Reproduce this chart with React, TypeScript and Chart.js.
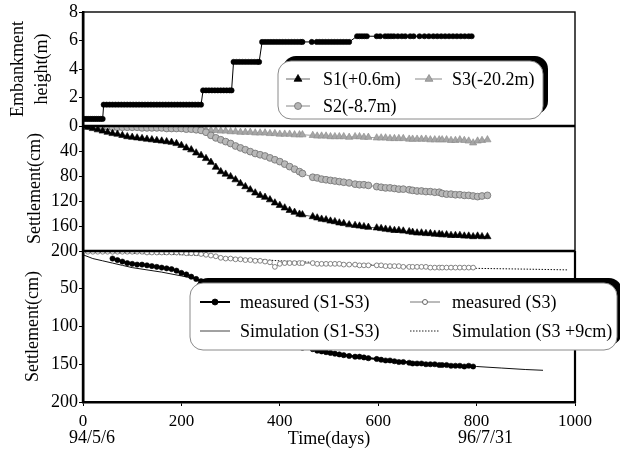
import React, { useEffect, useRef } from 'react';
import { Chart, registerables } from 'chart.js';

Chart.register(...registerables);

const FONT = '"Liberation Serif", "Times New Roman", serif';

// ---------- data ----------
const dateTickDays = [0, 800];
const dateTickLabels = ['94/5/6', '96/7/31'];

const embankmentDays = [
  0, 4, 8, 12, 16, 20, 24, 28, 32, 36, 40,
  42, 48, 54, 60, 66, 72, 78, 84, 90, 96, 102, 108, 114, 120, 126, 132, 138, 144, 150, 156, 162, 168, 174, 180, 186, 192, 198, 204, 210, 216, 222, 228, 234, 240,
  244, 250, 256, 262, 268, 274, 280, 286, 292, 298, 302,
  306, 312, 318, 324, 330, 336, 342, 348, 354, 358,
  364, 370, 376, 382, 388, 394, 400, 406, 412, 418, 424, 430, 436, 442, 446, 465, 475, 481, 487, 493, 499, 505, 511, 517, 523, 529, 535, 541,
  557, 562, 567, 572, 577, 597, 604, 614, 620, 626, 632, 640, 648, 655, 665, 672, 684, 694, 703, 712, 720, 728, 736, 744, 752, 760, 768, 776, 784, 790,
];
const embankmentHeight = [
  0.5, 0.5, 0.5, 0.5, 0.5, 0.5, 0.5, 0.5, 0.5, 0.5, 0.5,
  1.5, 1.5, 1.5, 1.5, 1.5, 1.5, 1.5, 1.5, 1.5, 1.5,
  1.5, 1.5, 1.5, 1.5, 1.5, 1.5, 1.5, 1.5, 1.5, 1.5,
  1.5, 1.5, 1.5, 1.5, 1.5, 1.5, 1.5, 1.5, 1.5, 1.5,
  1.5, 1.5, 1.5, 1.5,
  2.5, 2.5, 2.5, 2.5, 2.5, 2.5, 2.5, 2.5, 2.5, 2.5, 2.5,
  4.5, 4.5, 4.5, 4.5, 4.5, 4.5, 4.5, 4.5, 4.5, 4.5,
  5.9, 5.9, 5.9, 5.9, 5.9, 5.9, 5.9, 5.9, 5.9, 5.9,
  5.9, 5.9, 5.9, 5.9, 5.9, 5.9, 5.9, 5.9, 5.9, 5.9,
  5.9, 5.9, 5.9, 5.9, 5.9, 5.9, 5.9, 5.9,
  6.3, 6.3, 6.3, 6.3, 6.3, 6.3, 6.3, 6.3, 6.3, 6.3,
  6.3, 6.3, 6.3, 6.3, 6.3, 6.3, 6.3, 6.3, 6.3, 6.3,
  6.3, 6.3, 6.3, 6.3, 6.3, 6.3, 6.3, 6.3, 6.3, 6.3,
];

const settleDays = [
  0, 10, 20, 30, 40, 50, 60, 70, 80, 90, 100, 110, 120, 130, 140, 150, 160, 170, 180, 190, 200, 210, 220, 230, 240,
  250, 260, 270, 280, 290, 300, 310, 320, 330, 340, 350, 360, 370, 380, 390, 400, 410, 420, 430, 440, 446,
  467, 476, 485, 494, 503, 512, 521, 530, 541,
  553, 562, 571, 580,
  597, 606, 615, 624, 633, 642, 651, 663,
  670, 679, 688, 697, 706, 715, 724,
  730, 739, 748, 757, 766, 775, 784, 793, 802, 811, 822,
];
const s1Settlement = [
  0, 2, 4, 6, 8, 10, 12, 13, 15, 17, 18, 19, 20, 21, 22, 23, 24, 25, 26, 28, 31, 35, 38, 43, 47,
  52, 58, 66, 73, 77, 81, 86, 92, 97, 102, 107, 111, 114, 118, 123, 127, 131, 135, 138, 141, 142,
  145, 147, 149, 150, 152, 153, 155, 156, 158,
  159, 160, 161, 162,
  163, 164, 165, 166, 167, 167, 168, 169,
  170, 171, 171, 172, 172, 173, 173,
  174, 174, 175, 175, 175, 176, 176, 177, 176, 177, 177,
];
const s2Settlement = [
  0, 0, 1, 1, 1, 1, 2, 2, 2, 2, 2, 2, 3, 3, 3, 3, 3, 4, 4, 4, 4, 5, 5, 6, 7,
  10, 15, 19, 22, 25, 28, 32, 35, 38, 41, 44, 46, 48, 51, 54, 57, 61, 65, 69, 73, 76,
  82, 83, 85, 86, 87, 88, 89, 90, 91,
  93, 94, 94, 95,
  97, 98, 99, 99, 100, 101, 101, 102,
  103, 104, 104, 105, 105, 106, 106,
  108, 109, 109, 110, 110, 111, 111, 112, 113, 112, 111,
];
const s3Settlement = [
  0, 0, 0, 1, 1, 1, 1, 1, 1, 1, 1, 1, 2, 2, 2, 2, 2, 2, 2, 2, 2, 2, 3, 3, 4,
  6, 7, 7, 8, 8, 9, 9, 10, 10, 10, 11, 11, 11, 12, 12, 13, 13, 13, 14, 14, 14,
  15, 16, 16, 16, 17, 17, 17, 17, 18,
  17, 17, 18, 18,
  19, 19, 19, 20, 20, 20, 20, 21,
  21, 21, 21, 21, 22, 22, 22,
  22, 22, 23, 23, 22, 23, 24, 27, 24, 23, 22,
];

// bottom panel (measured), aligned with settleDays
const measuredS1S3 = [
  null, null, null, null, null, null, 10, 12, 14, 16, 17, 18, 18, 19, 20, 21, 22, 23, 24, 26, 29, 31, 34, 37, 40,
  45, 50, 58, 65, 69, 72, 77, 82, 87, 92, 96, 100, 103, 106, 110, 114, 118, 122, 124, 127, 128,
  130, 132, 133, 134, 135, 136, 137, 138, 139,
  140, 140, 141, 142,
  143, 144, 145, 145, 146, 147, 147, 148,
  149, 149, 149, 150, 150, 150, 151,
  151, 151, 152, 152, 152, 153, 152, 153,
];
const measuredS3 = [
  1, 1, 1, 1, 1, 1, 1, 1, 1, 1, 1, 1, 1, 2, 2, 2, 2, 2, 2, 2, 2, 3, 3, 3, 4,
  5, 6, 7, 9, 10, 10, 11, 11, 12, 12, 13, 13, 14, 15, 21, 17, 16, 16, 16, 16, 16,
  16, 17, 17, 17, 17, 17, 17, 18, 18,
  18, 19, 19, 19,
  19, 19, 20, 20, 20, 20, 21, 21,
  21, 21, 21, 21, 22, 22, 22,
  22, 22, 22, 22, 22, 22, 22, 22,
];

const simDays = [0, 20, 40, 60, 80, 100, 130, 160, 200, 230, 260, 300, 350, 400, 450, 500, 550, 600, 650, 700, 750, 800, 850, 900, 935];
const simS1S3 = [5, 10, 13, 16, 19, 22, 25, 28, 33, 37, 46, 70, 97, 115, 126, 134, 139, 143, 146, 149, 151, 153, 155, 157, 158];
const simS3Days = [0, 100, 200, 260, 300, 400, 500, 600, 700, 800, 900, 984];
const simS3 = [1, 3, 5, 6, 9, 13, 16, 19, 21, 23, 24, 25];

const legendTopLabels = ['S1(+0.6m)', 'S3(-20.2m)', 'S2(-8.7m)'];
const legendBottomLabels = ['measured (S1-S3)', 'measured (S3)', 'Simulation (S1-S3)', 'Simulation (S3 +9cm)'];

// ---------- helpers ----------
function zip(days: number[], vals: (number | null)[]) {
  const out: { x: number; y: number }[] = [];
  const n = Math.min(days.length, vals.length);
  for (let i = 0; i < n; i++) {
    const v = vals[i];
    if (v !== null) out.push({ x: days[i], y: v });
  }
  return out;
}

function roundRect(ctx: CanvasRenderingContext2D, x: number, y: number, w: number, h: number, r: number) {
  ctx.beginPath();
  ctx.moveTo(x + r, y);
  ctx.arcTo(x + w, y, x + w, y + h, r);
  ctx.arcTo(x + w, y + h, x, y + h, r);
  ctx.arcTo(x, y + h, x, y, r);
  ctx.arcTo(x, y, x + w, y, r);
  ctx.closePath();
}

function legendBox(ctx: CanvasRenderingContext2D, x: number, y: number, w: number, h: number) {
  ctx.fillStyle = '#000';
  roundRect(ctx, x + 5, y - 5, w, h, 13);
  ctx.fill();
  ctx.fillStyle = '#fff';
  roundRect(ctx, x, y, w, h, 13);
  ctx.fill();
  ctx.strokeStyle = '#8a8a8a';
  ctx.lineWidth = 1;
  ctx.stroke();
}

function triangle(ctx: CanvasRenderingContext2D, cx: number, cy: number, r: number, fill: string, stroke: string) {
  ctx.beginPath();
  ctx.moveTo(cx, cy - r);
  ctx.lineTo(cx + r * 0.866, cy + r * 0.5);
  ctx.lineTo(cx - r * 0.866, cy + r * 0.5);
  ctx.closePath();
  ctx.fillStyle = fill;
  ctx.fill();
  ctx.strokeStyle = stroke;
  ctx.lineWidth = 0.8;
  ctx.stroke();
}

function circle(ctx: CanvasRenderingContext2D, cx: number, cy: number, r: number, fill: string, stroke: string, lw = 0.8) {
  ctx.beginPath();
  ctx.arc(cx, cy, r, 0, Math.PI * 2);
  ctx.fillStyle = fill;
  ctx.fill();
  ctx.strokeStyle = stroke;
  ctx.lineWidth = lw;
  ctx.stroke();
}

function hline(ctx: CanvasRenderingContext2D, x1: number, x2: number, y: number, color: string, lw: number, dash: number[] = []) {
  ctx.save();
  ctx.beginPath();
  ctx.setLineDash(dash);
  ctx.moveTo(x1, y);
  ctx.lineTo(x2, y);
  ctx.strokeStyle = color;
  ctx.lineWidth = lw;
  ctx.stroke();
  ctx.restore();
}

const overlayPlugin = {
  id: 'overlay',
  afterDatasetsDraw(chart: any) {
    const { ctx, chartArea } = chart;
    const { left, right } = chartArea;
    const yT = chart.scales.yTop;
    const yM = chart.scales.yMid;
    const yB = chart.scales.yBot;
    ctx.save();
    ctx.strokeStyle = '#000';
    ctx.lineWidth = 1.4;
    ctx.strokeRect(left, yT.top, right - left, yB.bottom - yT.top);
    ctx.beginPath();
    ctx.lineWidth = 2.6;
    ctx.moveTo(left, yT.bottom);
    ctx.lineTo(right, yT.bottom);
    ctx.moveTo(left, yM.bottom);
    ctx.lineTo(right, yM.bottom);
    ctx.stroke();
    ctx.beginPath();
    ctx.lineWidth = 2.2;
    ctx.moveTo(right, yB.top);
    ctx.lineTo(right, yB.bottom);
    ctx.lineTo(left, yB.bottom);
    ctx.stroke();
    ctx.beginPath();
    ctx.lineWidth = 2.4;
    ctx.moveTo(left, yT.top);
    ctx.lineTo(left, yB.bottom);
    ctx.stroke();
    ctx.restore();
  },
  afterDraw(chart: any) {
    const { ctx } = chart;
    const x = chart.scales.x;
    ctx.save();
    ctx.font = `18px ${FONT}`;
    ctx.fillStyle = '#000';
    ctx.textBaseline = 'middle';
    ctx.textAlign = 'center';
    dateTickDays.forEach((d, i) => {
      ctx.fillText(dateTickLabels[i], x.getPixelForValue(d) + 9, 438);
    });

    // legend 1 (top panel)
    legendBox(ctx, 278, 61, 265, 58);
    ctx.textAlign = 'left';
    ctx.fillStyle = '#000';
    hline(ctx, 286, 310, 79, '#666', 1);
    triangle(ctx, 298, 79, 4.5, '#000', '#000');
    ctx.fillStyle = '#000';
    ctx.fillText(legendTopLabels[0], 323, 80);
    hline(ctx, 415, 442, 79, '#888', 1);
    triangle(ctx, 429, 79, 4.5, '#a6a6a6', '#8a8a8a');
    ctx.fillStyle = '#000';
    ctx.fillText(legendTopLabels[1], 452, 80);
    hline(ctx, 286, 310, 106, '#888', 1);
    circle(ctx, 298, 106, 3.5, '#b5b5b5', '#707070');
    ctx.fillStyle = '#000';
    ctx.fillText(legendTopLabels[2], 323, 107);

    // legend 2 (bottom panel)
    legendBox(ctx, 190, 283, 427, 67);
    hline(ctx, 200, 230, 302, '#000', 2);
    circle(ctx, 215, 302, 3, '#000', '#000');
    ctx.fillStyle = '#000';
    ctx.fillText(legendBottomLabels[0], 240, 303);
    hline(ctx, 410, 440, 302, '#777', 1);
    circle(ctx, 425, 302, 2.5, '#fff', '#666', 1);
    ctx.fillStyle = '#000';
    ctx.fillText(legendBottomLabels[1], 452, 303);
    hline(ctx, 200, 230, 331, '#444', 1);
    ctx.fillStyle = '#000';
    ctx.fillText(legendBottomLabels[2], 240, 332);
    hline(ctx, 410, 440, 331, '#222', 1, [1.5, 1.5]);
    ctx.fillStyle = '#000';
    ctx.fillText(legendBottomLabels[3], 452, 332);
    ctx.restore();
  },
};

export default function App() {
  const ref = useRef<HTMLCanvasElement | null>(null);

  useEffect(() => {
    document.body.style.margin = '0';
    const canvas = ref.current;
    if (!canvas) return;

    const tickFont = { family: FONT, size: 18 };
    const grid = {
      drawOnChartArea: false,
      drawTicks: true,
      tickLength: 4,
      color: '#000',
      tickColor: '#000',
      lineWidth: 1,
    };
    const yBorder = { display: true, color: '#000', width: 2.4 };

    const chart = new Chart(canvas, {
      type: 'line',
      data: {
        datasets: [
          {
            label: 'Embankment',
            data: zip(embankmentDays, embankmentHeight),
            yAxisID: 'yTop',
            borderColor: '#000',
            borderWidth: 1,
            pointRadius: 2.6,
            pointBackgroundColor: '#000',
            pointBorderColor: '#000',
            pointBorderWidth: 0.6,
          },
          {
            label: legendTopLabels[0],
            data: zip(settleDays, s1Settlement),
            yAxisID: 'yMid',
            borderColor: '#333',
            borderWidth: 0.8,
            pointStyle: 'triangle',
            pointRadius: 4.2,
            pointBackgroundColor: '#000',
            pointBorderColor: '#000',
            pointBorderWidth: 0.6,
          },
          {
            label: legendTopLabels[2],
            data: zip(settleDays, s2Settlement),
            yAxisID: 'yMid',
            borderColor: '#777',
            borderWidth: 0.8,
            pointStyle: 'circle',
            pointRadius: 3.4,
            pointBackgroundColor: '#b8b8b8',
            pointBorderColor: '#707070',
            pointBorderWidth: 0.8,
          },
          {
            label: legendTopLabels[1],
            data: zip(settleDays, s3Settlement),
            yAxisID: 'yMid',
            borderColor: '#888',
            borderWidth: 0.8,
            pointStyle: 'triangle',
            pointRadius: 4.2,
            pointBackgroundColor: '#a6a6a6',
            pointBorderColor: '#8a8a8a',
            pointBorderWidth: 0.6,
          },
          {
            label: legendBottomLabels[0],
            data: zip(settleDays, measuredS1S3),
            yAxisID: 'yBot',
            borderColor: '#000',
            borderWidth: 2,
            pointRadius: 2.6,
            pointBackgroundColor: '#000',
            pointBorderColor: '#000',
            pointBorderWidth: 0.6,
          },
          {
            label: legendBottomLabels[1],
            data: zip(settleDays, measuredS3),
            yAxisID: 'yBot',
            borderColor: '#777',
            borderWidth: 1,
            pointRadius: 2.4,
            pointBackgroundColor: '#fff',
            pointBorderColor: '#777',
            pointBorderWidth: 0.9,
          },
          {
            label: legendBottomLabels[2],
            data: zip(simDays, simS1S3),
            yAxisID: 'yBot',
            borderColor: '#111',
            borderWidth: 1,
            pointRadius: 0,
          },
          {
            label: legendBottomLabels[3],
            data: zip(simS3Days, simS3),
            yAxisID: 'yBot',
            borderColor: '#111',
            borderWidth: 1,
            borderDash: [1.5, 1.5],
            pointRadius: 0,
          },
        ],
      },
      options: {
        animation: false,
        responsive: false,
        devicePixelRatio: 1,
        layout: { padding: { top: 12, right: 45, left: 0, bottom: 0 } },
        elements: { line: { tension: 0 } },
        plugins: { legend: { display: false }, tooltip: { enabled: false } },
        scales: {
          x: {
            type: 'linear',
            min: 0,
            max: 1000,
            ticks: {
              stepSize: 200,
              font: { family: FONT, size: 17 },
              color: '#000',
              padding: 5,
              maxRotation: 0,
              callback: (v: any) => String(v),
            },
            grid: { ...grid },
            border: { display: true, color: '#000', width: 2.4 },
            title: {
              display: true,
              text: 'Time(days)',
              font: { family: FONT, size: 18 },
              color: '#000',
              padding: { top: 0, bottom: 0 },
            },
            afterFit: (s: any) => {
              s.height = 48;
            },
          },
          yTop: {
            type: 'linear',
            position: 'left',
            stack: 'panels',
            stackWeight: 114,
            weight: 3,
            min: 0,
            max: 8,
            ticks: {
              stepSize: 2,
              font: tickFont,
              color: '#000',
              padding: 1,
              autoSkip: false,
              callback: (v: any) => (v === 0 ? '' : String(v)),
            },
            grid: { ...grid },
            border: yBorder,
            title: {
              display: true,
              text: ['Embankment', 'height(m)'],
              font: { family: FONT, size: 18, lineHeight: 1.33 },
              color: '#000',
              padding: { top: 6, bottom: 0 },
            },
            afterFit: (s: any) => {
              s.width = 83;
            },
          },
          yMid: {
            type: 'linear',
            position: 'left',
            stack: 'panels',
            stackWeight: 125,
            weight: 2,
            reverse: true,
            min: 0,
            max: 200,
            ticks: { stepSize: 40, font: tickFont, color: '#000', padding: 1, autoSkip: false },
            grid: { ...grid },
            border: yBorder,
            title: {
              display: true,
              text: 'Settlement(cm)',
              font: { family: FONT, size: 18 },
              color: '#000',
              padding: { top: 24, bottom: 0 },
            },
            afterFit: (s: any) => {
              s.width = 83;
            },
          },
          yBot: {
            type: 'linear',
            position: 'left',
            stack: 'panels',
            stackWeight: 151,
            weight: 1,
            reverse: true,
            min: 0,
            max: 200,
            ticks: {
              stepSize: 50,
              font: tickFont,
              color: '#000',
              padding: 1,
              autoSkip: false,
              callback: (v: any) => (v === 0 ? '' : String(v)),
            },
            grid: { ...grid },
            border: yBorder,
            title: {
              display: true,
              text: 'Settlement(cm)',
              font: { family: FONT, size: 18 },
              color: '#000',
              padding: { top: 22, bottom: 0 },
            },
            afterFit: (s: any) => {
              s.width = 83;
            },
          },
        },
      } as any,
      plugins: [overlayPlugin],
    });

    return () => {
      chart.destroy();
    };
  }, []);

  return (
    <div style={{ width: 620, height: 450, background: '#fff' }}>
      <canvas ref={ref} width={620} height={450} style={{ display: 'block' }} />
    </div>
  );
}
